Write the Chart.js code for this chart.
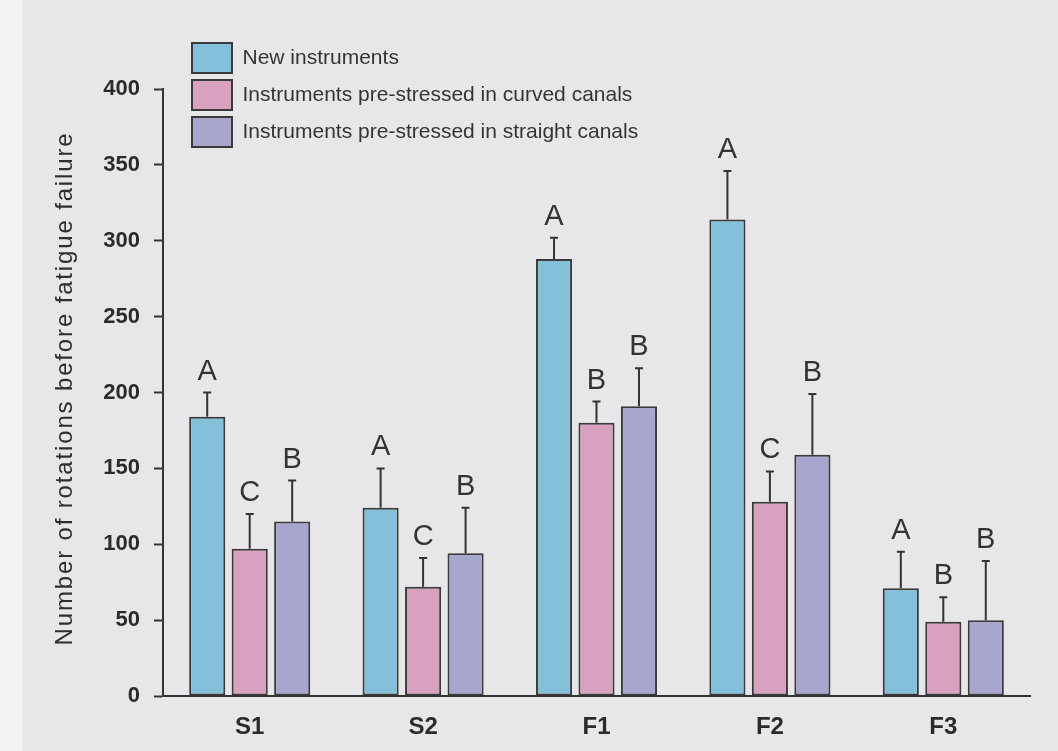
<!DOCTYPE html>
<html>
<head>
<meta charset="utf-8">
<script src="https://cdn.jsdelivr.net/npm/chart.js@4.4.1/dist/chart.umd.min.js"></script>
<style>
  html, body { margin: 0; padding: 0; }
  body {
    width: 1058px; height: 751px; overflow: hidden;
    background: linear-gradient(to right, #f2f2f3 0, #f2f2f3 22px, #e7e7e9 22px);
  }
  canvas { display: block; }
</style>
</head>
<body>
<canvas id="chart" width="1058" height="751"></canvas>
<script>
// Instrument groups on the x axis
const categories = ['S1', 'S2', 'F1', 'F2', 'F3'];
const seriesNames = [
  'New instruments',
  'Instruments pre-stressed in curved canals',
  'Instruments pre-stressed in straight canals'
];

// Mean number of rotations before fatigue failure, with standard deviations
const newInstruments    = [184, 124, 288, 314, 71];
const newInstrumentsSD  = [16, 26, 14, 32, 24];
const curvedCanals      = [97, 72, 180, 128, 49];
const curvedCanalsSD    = [23, 19, 14, 20, 16];
const straightCanals    = [115, 94, 191, 159, 50];
const straightCanalsSD  = [27, 30, 25, 40, 39];

// Statistical grouping letters shown above each bar
const newLetters      = ['A', 'A', 'A', 'A', 'A'];
const curvedLetters   = ['C', 'C', 'B', 'C', 'B'];
const straightLetters = ['B', 'B', 'B', 'B', 'B'];

const yTicks = [0, 50, 100, 150, 200, 250, 300, 350, 400];
const yTitle = 'Number of rotations before fatigue failure';

const INK = '#333333';
const FONT = '"Liberation Sans", Arial, sans-serif';

// Upper error whiskers and significance letters
const errorBarPlugin = {
  id: 'errorBars',
  afterDatasetsDraw(chart) {
    const ctx = chart.ctx;
    const yScale = chart.scales.y;
    chart.data.datasets.forEach((ds, i) => {
      const meta = chart.getDatasetMeta(i);
      meta.data.forEach((bar, j) => {
        const top = yScale.getPixelForValue(ds.data[j] + ds.errors[j]);
        ctx.save();
        ctx.strokeStyle = INK;
        ctx.lineWidth = 2;
        ctx.beginPath();
        ctx.moveTo(bar.x, bar.y);
        ctx.lineTo(bar.x, top);
        ctx.moveTo(bar.x - 4, top);
        ctx.lineTo(bar.x + 4, top);
        ctx.stroke();
        ctx.font = '29px ' + FONT;
        ctx.fillStyle = INK;
        ctx.textAlign = 'center';
        ctx.textBaseline = 'alphabetic';
        ctx.fillText(ds.letters[j], bar.x, top - 13);
        ctx.restore();
      });
    });
  }
};

// Vertical y-axis title with slightly open letter spacing
const yTitlePlugin = {
  id: 'yTitle',
  afterDraw(chart) {
    const ctx = chart.ctx;
    const area = chart.chartArea;
    ctx.save();
    ctx.translate(65, (area.top + area.bottom) / 2 - 4);
    ctx.rotate(-Math.PI / 2);
    ctx.font = '24px ' + FONT;
    if ('letterSpacing' in ctx) ctx.letterSpacing = '1.85px';
    ctx.fillStyle = '#2e2e2e';
    ctx.textAlign = 'center';
    ctx.textBaseline = 'middle';
    ctx.fillText(yTitle, 0, 0);
    ctx.restore();
  }
};

// Place the stacked legend above the top-left of the plot
const legendPlacePlugin = {
  id: 'legendPlace',
  afterLayout(chart) {
    const lg = chart.legend;
    if (!lg) return;
    const w = lg.right - lg.left, h = lg.bottom - lg.top;
    lg.left = 185;
    lg.top = 36;
    lg.right = lg.left + w;
    lg.bottom = lg.top + h;
  }
};

new Chart(document.getElementById('chart'), {
  type: 'bar',
  data: {
    labels: categories,
    datasets: [
      { label: seriesNames[0], data: newInstruments, errors: newInstrumentsSD, letters: newLetters,
        backgroundColor: '#84c0d9' },
      { label: seriesNames[1], data: curvedCanals, errors: curvedCanalsSD, letters: curvedLetters,
        backgroundColor: '#d8a1c0' },
      { label: seriesNames[2], data: straightCanals, errors: straightCanalsSD, letters: straightLetters,
        backgroundColor: '#a7a6cf' }
    ].map(d => Object.assign(d, {
      borderColor: '#3a3a3a',
      borderWidth: 2,
      borderSkipped: false,
      categoryPercentage: 0.735,
      barPercentage: 0.85
    }))
  },
  options: {
    responsive: false,
    animation: false,
    events: [],
    layout: { padding: { top: 89, right: 28, left: 0, bottom: 0 } },
    plugins: {
      legend: {
        position: 'chartArea',
        align: 'start',
        labels: {
          boxWidth: 40,
          boxHeight: 30,
          padding: 7,
          color: '#343434',
          font: { family: FONT, size: 21 }
        }
      },
      tooltip: { enabled: false }
    },
    scales: {
      x: {
        grid: { display: false, drawTicks: false },
        border: { display: true, color: INK, width: 2 },
        ticks: {
          color: '#2b2b2b',
          padding: 17,
          font: { family: FONT, size: 24, weight: 'bold' }
        },
        afterFit(scale) { scale.height = 55; }
      },
      y: {
        min: 0,
        max: 400,
        afterBuildTicks(scale) { scale.ticks = yTicks.map(v => ({ value: v })); },
        grid: { drawOnChartArea: false, drawTicks: true, tickLength: 9, tickColor: INK, tickWidth: 2 },
        border: { display: true, color: INK, width: 2 },
        ticks: {
          color: '#2b2b2b',
          padding: 14,
          font: { family: FONT, size: 22, weight: 'bold' }
        },
        afterFit(scale) { scale.width = 163; }
      }
    }
  },
  plugins: [errorBarPlugin, yTitlePlugin, legendPlacePlugin]
});
</script>
</body>
</html>
